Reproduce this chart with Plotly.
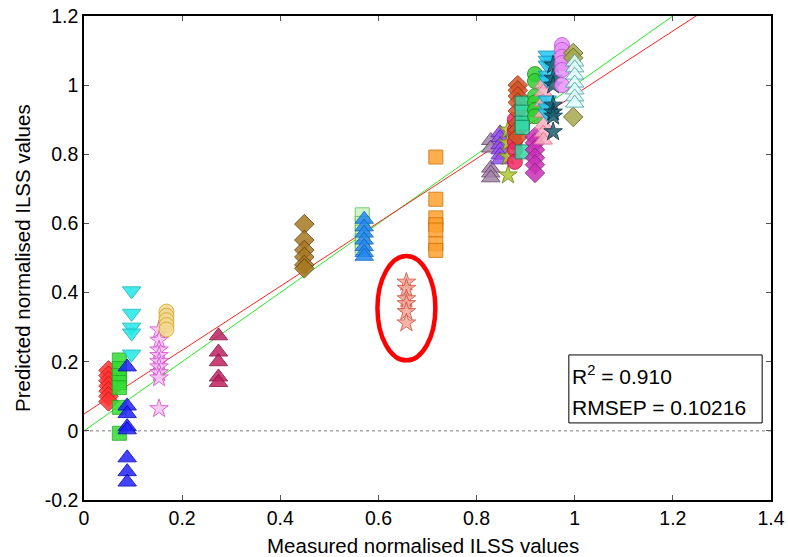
import plotly.graph_objects as go

# ---------------- data ----------------
x_ticks = [0, 0.2, 0.4, 0.6, 0.8, 1.0, 1.2, 1.4]
x_tick_text = ["0", "0.2", "0.4", "0.6", "0.8", "1", "1.2", "1.4"]
y_ticks = [-0.2, 0, 0.2, 0.4, 0.6, 0.8, 1.0, 1.2]
y_tick_text = ["-0.2", "0", "0.2", "0.4", "0.6", "0.8", "1", "1.2"]

# measured value of each sample group
group_names = ["g01", "g02", "g03", "g04", "g05", "g06", "g07", "g08", "g10", "g09",
               "g11", "g12", "g13", "g14", "g15", "g16", "g17", "g18", "g19", "g20",
               "g21", "g22", "g23", "g24", "g25", "g26"]
measured = [0.050, 0.072, 0.097, 0.088, 0.153, 0.168, 0.274, 0.449, 0.567, 0.571,
            0.717, 0.657, 0.829, 0.848, 0.864, 0.878, 0.884, 0.893, 0.919, 0.919,
            0.936, 0.944, 0.956, 0.974, 0.997, 1.000]

# predicted values for each group
pred_g01 = [0.175, 0.160, 0.145, 0.130, 0.115, 0.100, 0.085]
pred_g02 = [0.205, 0.180, 0.160, 0.140, 0.125, 0.068, -0.007]
pred_g03 = [0.405, 0.340, 0.300, 0.283, 0.222]
pred_g04 = [0.185, 0.072, 0.050, 0.012, 0.003, -0.078, -0.118, -0.148]
pred_g05 = [0.292, 0.262, 0.234, 0.218, 0.200, 0.185, 0.168, 0.153, 0.064]
pred_g06 = [0.345, 0.333, 0.320, 0.306, 0.293]
pred_g07 = [0.275, 0.228, 0.200, 0.156, 0.140]
pred_g08 = [0.598, 0.552, 0.523, 0.503, 0.480, 0.470]
pred_g10 = [0.625, 0.600, 0.575, 0.550, 0.530]
pred_g09 = [0.612, 0.590, 0.572, 0.552, 0.533, 0.516, 0.505]
pred_g11 = [0.792, 0.670, 0.616, 0.596, 0.581, 0.541, 0.522]
pred_g12 = [0.430, 0.412, 0.382, 0.368, 0.345, 0.312]
pred_g13 = [0.840, 0.818, 0.760, 0.746, 0.732]
pred_g14 = [0.862, 0.848, 0.828, 0.813, 0.798, 0.784]
pred_g15 = [0.870, 0.833, 0.793, 0.740]
pred_g16 = [0.900, 0.870, 0.836, 0.813, 0.778]
pred_g17 = [1.000, 0.985, 0.968, 0.950, 0.925, 0.890, 0.870, 0.850]
pred_g18 = [0.948, 0.922, 0.890, 0.878, 0.807]
pred_g19 = [1.032, 1.012, 0.968, 0.950, 0.928, 0.910]
pred_g20 = [0.850, 0.833, 0.813, 0.790, 0.770, 0.746]
pred_g21 = [1.003, 0.980, 0.951, 0.919, 0.885, 0.862, 0.841]
pred_g22 = [1.087, 1.072, 1.058, 1.029, 1.015, 0.957, 0.934, 0.919]
pred_g23 = [1.058, 1.020, 1.000, 0.942, 0.922, 0.910, 0.865]
pred_g24 = [1.116, 1.102, 1.082, 1.064, 1.044, 1.000]
pred_g25 = [1.093, 1.079, 0.908]
pred_g26 = [1.067, 1.050, 1.029, 1.006, 0.986, 0.966, 0.948]

predicted = [pred_g01, pred_g02, pred_g03, pred_g04, pred_g05, pred_g06, pred_g07,
             pred_g08, pred_g10, pred_g09, pred_g11, pred_g12, pred_g13, pred_g14,
             pred_g15, pred_g16, pred_g17, pred_g18, pred_g19, pred_g20, pred_g21,
             pred_g22, pred_g23, pred_g24, pred_g25, pred_g26]

# regression line and statistics
fit_intercept = 0.049
fit_slope = 0.923
ideal_range = [0, 1.2]
line_range = [0, 1.4]
r2_text = "0.910"
rmsep_text = "0.10216"

# highlighted outlier group (ellipse)
outlier_center = [0.657, 0.355]
outlier_half_axes = [0.059, 0.151]

# ---------------- styles ----------------
symbols = ["diamond", "square", "triangle-down", "triangle-up", "star", "circle",
           "triangle-up", "diamond", "square", "triangle-up", "square", "star",
           "triangle-up", "triangle-up", "star", "circle", "diamond", "square",
           "circle", "diamond", "triangle-up", "triangle-down", "star", "circle",
           "diamond", "triangle-up"]
fills = ["#FF3333", "#33DD33", "#22E8E8", "#2222FF", "#F8C4F2", "#F2D890",
         "#C02060", "#A87820", "#C8F4C0", "#2288F0", "#FFA030", "#F4A898",
         "#A484AC", "#9450F0", "#B0C830", "#F02862", "#D25428", "#34D8A4",
         "#34D034", "#C830B8", "#F8B0C0", "#20C8F0", "#1A6070", "#E890F8",
         "#A8A850", "#E0FFFF"]
edges = ["#CC1010", "#22AA22", "#10B8B8", "#0000B0", "#D050D0", "#D8A428",
         "#801040", "#604010", "#60C060", "#1060C0", "#D07000", "#D05040",
         "#604060", "#6020B0", "#708010", "#C01040", "#903010", "#108060",
         "#109010", "#902080", "#E07090", "#1090C0", "#0A3040", "#C050D0",
         "#606020", "#50A0A0"]
sizes = {"diamond": 15, "square": 14, "triangle-down": 16, "triangle-up": 16,
         "star": 14, "circle": 15}

FONT = "Liberation Sans, Arial, sans-serif"

fig = go.Figure()

# zero reference line
fig.add_trace(go.Scatter(x=line_range, y=[0, 0], mode="lines",
                         line=dict(color="#777777", width=1, dash="dot"),
                         hoverinfo="skip", showlegend=False))
# 1:1 line
fig.add_trace(go.Scatter(x=ideal_range, y=ideal_range, mode="lines",
                         line=dict(color="#22EE22", width=1),
                         hoverinfo="skip", showlegend=False))
# fitted regression line
fig.add_trace(go.Scatter(x=line_range,
                         y=[fit_intercept + fit_slope * v for v in line_range],
                         mode="lines", line=dict(color="#FF2222", width=1),
                         hoverinfo="skip", showlegend=False))

for name, xm, ys, sym, fc, ec in zip(group_names, measured, predicted,
                                     symbols, fills, edges):
    fig.add_trace(go.Scatter(
        x=[xm] * len(ys), y=ys, mode="markers", name=name, showlegend=False,
        marker=dict(symbol=sym, size=sizes[sym], color=fc, opacity=0.85,
                    line=dict(color=ec, width=1)),
    ))

# ellipse around the outlier group
fig.add_shape(type="circle", xref="x", yref="y",
              x0=outlier_center[0] - outlier_half_axes[0],
              x1=outlier_center[0] + outlier_half_axes[0],
              y0=outlier_center[1] - outlier_half_axes[1],
              y1=outlier_center[1] + outlier_half_axes[1],
              line=dict(color="#FF0000", width=4.5))

# statistics box
fig.add_shape(type="rect", xref="x", yref="y", x0=0.988, x1=1.382, y0=0.023, y1=0.2196,
              line=dict(color="black", width=1), fillcolor="white", layer="above")
fig.add_annotation(xref="x", yref="y", x=0.991, y=0.162, xanchor="left", yanchor="middle",
                   text="R<sup>2</sup> = " + r2_text, showarrow=False,
                   font=dict(family=FONT, size=21, color="black"))
fig.add_annotation(xref="x", yref="y", x=0.991, y=0.069, xanchor="left", yanchor="middle",
                   text="RMSEP = " + rmsep_text, showarrow=False,
                   font=dict(family=FONT, size=21, color="black"))

axis_common = dict(showgrid=False, zeroline=False, showline=True, linecolor="black",
                   linewidth=1.5, mirror="ticks", ticks="inside", ticklen=5,
                   tickcolor="#555555", tickwidth=1, automargin=False,
                   tickfont=dict(family=FONT, size=19.5, color="black"))

fig.update_xaxes(range=[0, 1.4], tickvals=x_ticks, ticktext=x_tick_text, **axis_common)
fig.update_yaxes(range=[-0.2, 1.2], tickvals=y_ticks, ticktext=y_tick_text, **axis_common)

# axis titles
fig.add_annotation(xref="paper", yref="paper", x=0.5, y=0, yshift=-45, xshift=-5,
                   xanchor="center", yanchor="middle",
                   text="Measured normalised ILSS values", showarrow=False,
                   font=dict(family=FONT, size=20.5, color="black"))
fig.add_annotation(xref="paper", yref="paper", x=0, y=0.5, xshift=-62, xanchor="center",
                   yanchor="middle", text="Predicted normalised ILSS values", showarrow=False,
                   textangle=-90, font=dict(family=FONT, size=20.5, color="black"))

fig.update_layout(width=788, height=557, plot_bgcolor="white", paper_bgcolor="white",
                  margin=dict(l=84, r=17, t=16, b=57), showlegend=False)

fig.write_html("out.html", config={"displayModeBar": False},
               post_script="document.body.style.margin='0';document.body.style.overflow='hidden';")
